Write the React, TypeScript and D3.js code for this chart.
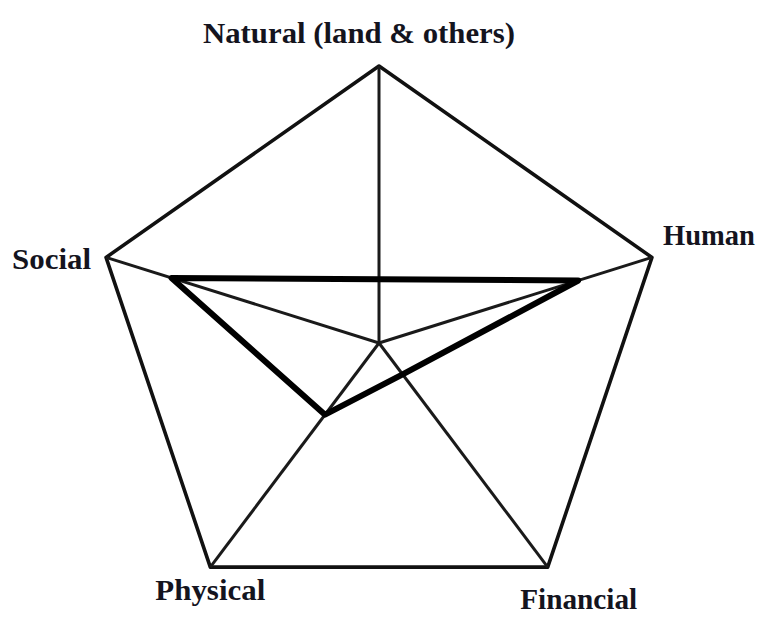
import * as d3 from "d3";
import { useEffect, useRef } from "react";

// axes, clockwise from the top
const axes = ["Natural (land & others)", "Human", "Financial", "Physical", "Social"];
// assessed level of each capital (0..1 of the outer pentagon)
const capitalValues = [0.23, 0.73, 0.14, 0.32, 0.76];
// outer frame level
const frameLevel = [1, 1, 1, 1, 1];

const width = 759;
const height = 617;

const RadarChart = () => {
  const svgRef = useRef<SVGSVGElement | null>(null);

  const drawChart = () => {
    d3.select(svgRef.current).selectAll("*").remove();

    const svg = d3
      .select(svgRef.current)
      .attr("width", width)
      .attr("height", height);

    // unit-circle coordinates mapped to the page; the picture is slightly wider than tall
    const xScale = d3.scaleLinear().domain([-1, 1]).range([379 - 287, 379 + 287]);
    const yScale = d3.scaleLinear().domain([-1, 1]).range([343 - 277, 343 + 277]);
    const angle = d3
      .scaleLinear()
      .domain([0, axes.length])
      .range([0, 2 * Math.PI]);

    const px = (i: number, v: number) => xScale(Math.sin(angle(i)) * v);
    const py = (i: number, v: number) => yScale(-Math.cos(angle(i)) * v);

    const line = d3
      .line<number>()
      .x((v, i) => px(i, v))
      .y((v, i) => py(i, v))
      .curve(d3.curveLinearClosed);

    // outer pentagon
    svg
      .append("path")
      .attr("d", line(frameLevel))
      .attr("fill", "none")
      .attr("stroke", "#111")
      .attr("stroke-width", 3.6)
      .attr("stroke-linejoin", "round");

    // spokes
    svg
      .selectAll(".spoke")
      .data(axes)
      .enter()
      .append("line")
      .attr("class", "spoke")
      .attr("x1", xScale(0))
      .attr("y1", yScale(0))
      .attr("x2", (d, i) => px(i, 1))
      .attr("y2", (d, i) => py(i, 1))
      .attr("stroke", "#1a1a1a")
      .attr("stroke-width", 3);

    // assessed values
    svg
      .append("path")
      .attr("d", line(capitalValues))
      .attr("fill", "none")
      .attr("stroke", "#000")
      .attr("stroke-width", 6)
      .attr("stroke-linejoin", "round");

    // axis labels
    const labelPlace = [
      { dx: -20, dy: -23, anchor: "middle", len: 312 },
      { dx: 11, dy: -12, anchor: "start", len: 92 },
      { dx: 31, dy: 42, anchor: "middle", len: 117 },
      { dx: 0, dy: 33, anchor: "middle", len: 110 },
      { dx: -15, dy: 12, anchor: "end", len: 79 },
    ];

    svg
      .selectAll(".label")
      .data(axes)
      .enter()
      .append("text")
      .attr("class", "label")
      .attr("x", (d, i) => px(i, 1) + labelPlace[i].dx)
      .attr("y", (d, i) => py(i, 1) + labelPlace[i].dy)
      .attr("text-anchor", (d, i) => labelPlace[i].anchor)
      .attr("textLength", (d, i) => labelPlace[i].len)
      .attr("lengthAdjust", "spacingAndGlyphs")
      .attr("font-family", "'Liberation Serif', 'Times New Roman', serif")
      .attr("font-weight", "bold")
      .attr("font-size", 29)
      .attr("fill", "#14141e")
      .text((d) => d);
  };

  useEffect(() => {
    drawChart();
  }, []);

  return (
    <svg
      ref={svgRef}
      style={{ position: "absolute", left: 0, top: 0, background: "#fff" }}
    ></svg>
  );
};

export default function App() {
  return <RadarChart />;
}
